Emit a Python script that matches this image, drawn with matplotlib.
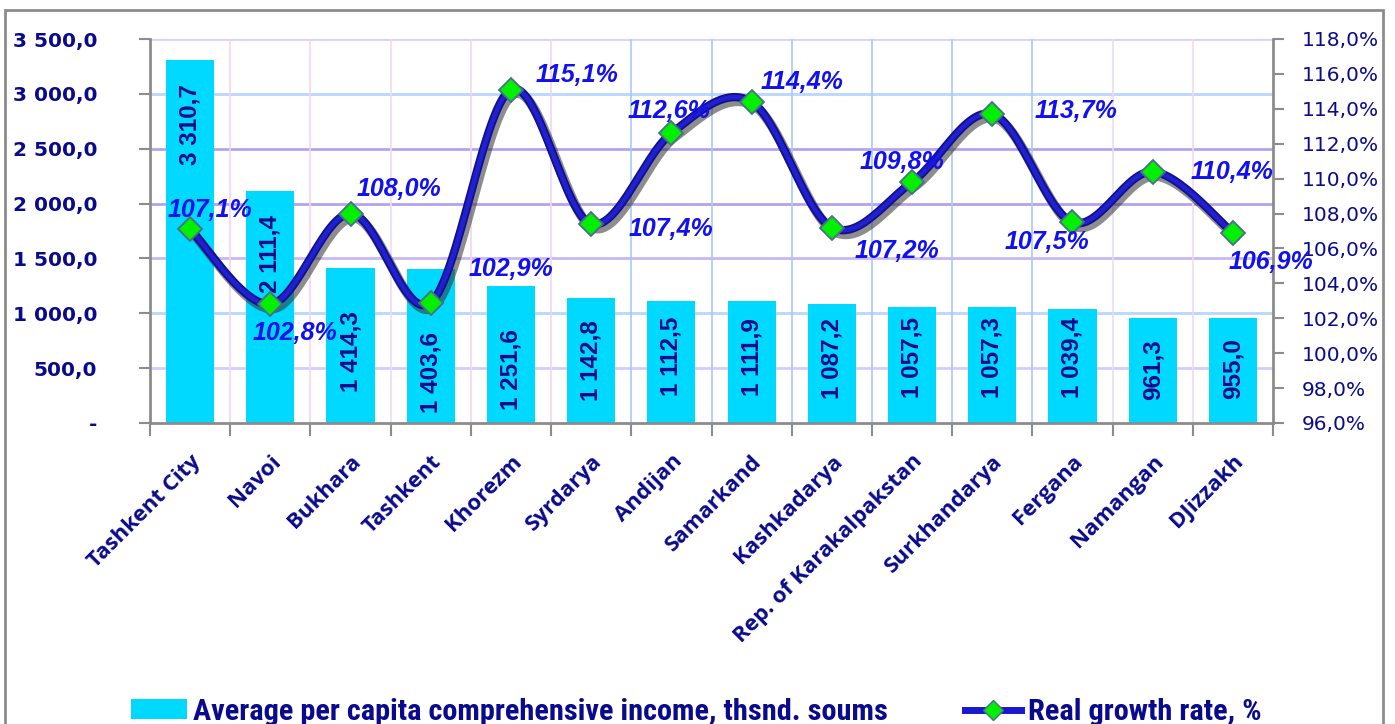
import numpy as np
import matplotlib
matplotlib.use("Agg")
import matplotlib.pyplot as plt
from matplotlib import font_manager
from matplotlib.patches import Rectangle
from matplotlib.lines import Line2D
import matplotlib.patheffects as pe

regions = ["Tashkent City", "Navoi", "Bukhara", "Tashkent", "Khorezm", "Syrdarya",
           "Andijan", "Samarkand", "Kashkadarya", "Rep. of Karakalpakstan",
           "Surkhandarya", "Fergana", "Namangan", "DJizzakh"]
income = [3310.7, 2111.4, 1414.3, 1403.6, 1251.6, 1142.8, 1112.5, 1111.9,
          1087.2, 1057.5, 1057.3, 1039.4, 961.3, 955.0]
growth = [107.1, 102.8, 108.0, 102.9, 115.1, 107.4, 112.6, 114.4,
          107.2, 109.8, 113.7, 107.5, 110.4, 106.9]

# where the value labels sit (left axis units / pixel offsets of the % labels)
bar_label_y = [2723, 1544, 651, 460, 483, 565, 606, 597, 587, 601, 601, 601, 483, 492]
pct_offsets_px = [(20, -19), (25, 29), (48, -25), (80, -34), (66, -15), (80, 5), (-2, -22),
                  (50, -20), (65, 23), (-10, -20), (84, -3), (-25, 20), (79, 0), (38, 29)]

navy = "#0A0A8C"
cyan = "#00D9FF"


def pick_font(names):
    have = {f.name for f in font_manager.fontManager.ttflist}
    for n in names:
        if n in have:
            return n
    return "DejaVu Sans"


narrow = pick_font(["Liberation Sans Narrow", "Roboto Condensed", "Liberation Sans"])
arial = pick_font(["Liberation Sans", "Arimo", "DejaVu Sans"])


def fmt_num(v):
    if v == 0:
        return "-"
    s = f"{v:,.1f}".replace(",", " ").replace(".", ",")
    return s


def smooth(xs, ys, n=30):
    # Catmull-Rom style bezier smoothing like the spreadsheet "smoothed line"
    xs = np.asarray(xs, float)
    ys = np.asarray(ys, float)
    px = np.concatenate([[xs[0]], xs, [xs[-1]]])
    py = np.concatenate([[ys[0]], ys, [ys[-1]]])
    outx, outy = [], []
    for i in range(1, len(px) - 2):
        p0 = np.array([px[i], py[i]])
        p3 = np.array([px[i + 1], py[i + 1]])
        c1 = p0 + (np.array([px[i + 1], py[i + 1]]) - np.array([px[i - 1], py[i - 1]])) / 6
        c2 = p3 - (np.array([px[i + 2], py[i + 2]]) - np.array([px[i], py[i]])) / 6
        t = np.linspace(0, 1, n)[:, None]
        b = (1 - t) ** 3 * p0 + 3 * (1 - t) ** 2 * t * c1 + 3 * (1 - t) * t ** 2 * c2 + t ** 3 * p3
        outx.extend(b[:, 0])
        outy.extend(b[:, 1])
    return np.array(outx), np.array(outy)


fig = plt.figure(figsize=(13.95, 7.24), dpi=100)
fig.patches.append(Rectangle((5 / 1395, -0.05), 1378 / 1395, 1 - 10 / 724 + 0.05,
                             transform=fig.transFigure, fill=False, edgecolor="#8C8C8C", lw=2))

ax = fig.add_axes([150 / 1395, 1 - 423 / 724, 1123 / 1395, 384 / 724])
x = np.arange(len(regions))

# grid
hcolors = ["#D8D0FF", "#B8D6FF", "#B4A2F0", "#B4A2F0", "#C8B8F4", "#B8D6FF", "#D4CCFF"]
for yv, c in zip(range(3500, 0, -500), hcolors):
    ax.axhline(yv, color=c, lw=2, zorder=0)
vcolors = ["#F4D6F0", "#F4D6F0", "#F0DAF4", "#F4D6F0", "#F4D6F0", "#A9C9F8", "#A9C9F8",
           "#A9C9F8", "#A9C9F8", "#A9C9F8", "#A9C9F8", "#E6DDF8", "#F2D8F2"]
for i, c in enumerate(vcolors):
    ax.axvline(i + 0.5, color=c, lw=1.2, zorder=0)

bars = ax.bar(x, income, width=0.6, color=cyan, zorder=2)
for xi, v, yl in zip(x, income, bar_label_y):
    ax.text(xi, yl, fmt_num(v), rotation=90, ha="center", va="center", family=arial,
            fontsize=17.5, fontweight="bold", color=navy, zorder=3)

ax.set_xlim(-0.5, len(regions) - 0.5)
ax.set_ylim(0, 3500)
ax.set_yticks(range(0, 3501, 500))
ax.set_yticklabels([fmt_num(v) for v in range(0, 3501, 500)])
for t in ax.get_yticklabels():
    t.set_fontweight("bold")
    t.set_fontsize(14.5)
    t.set_color(navy)
ax.tick_params(axis="y", length=8, width=1.5, color="#8C8C8C", pad=30)

ax.set_xticks(x)
ax.set_xticklabels(regions, rotation=45, ha="right", rotation_mode="anchor",
                   fontsize=16, fontweight="bold", color=navy, family="Open Sans")
ax.tick_params(axis="x", length=0, pad=20)
ax.set_xticks(np.arange(-0.5, len(regions)), minor=True)
ax.tick_params(axis="x", which="minor", length=9, width=1.5, color="#8C8C8C")

for s in ["top", "right"]:
    ax.spines[s].set_visible(False)
for s in ["left", "bottom"]:
    ax.spines[s].set_color("#8C8C8C")
    ax.spines[s].set_linewidth(2)

ax2 = ax.twinx()
ax2.set_ylim(96, 118)
ax2.set_yticks(np.arange(96, 118.1, 2))
ax2.set_yticklabels([f"{v:.1f}%".replace(".", ",") for v in np.arange(96, 118.1, 2)])
ax2.tick_params(axis="y", length=8, width=1.5, color="#8C8C8C", labelsize=14.5,
                labelcolor=navy, pad=13)
for s in ["top", "left", "bottom"]:
    ax2.spines[s].set_visible(False)
ax2.spines["right"].set_color("#8C8C8C")
ax2.spines["right"].set_linewidth(2)

sx, sy = smooth(x, growth)
ax2.plot(sx, sy, color="#2020D0", lw=3.4, solid_capstyle="round", zorder=3,
         path_effects=[pe.SimpleLineShadow(offset=(2, -3), shadow_color="#303030", alpha=0.55, linewidth=7),
                       pe.Stroke(linewidth=6, foreground="#10108C"), pe.Normal()])
ax2.plot(x, growth, ls="none", marker="D", ms=12, mfc="#00F000", mec="#4A6E8A", mew=1.3, zorder=4)

for xi, g, (dx, dy) in zip(x, growth, pct_offsets_px):
    ax2.annotate(f"{g:.1f}%".replace(".", ","), (xi, g), xytext=(dx * 0.72, -dy * 0.72),
                 textcoords="offset points", ha="center", va="center", fontsize=18,
                 family=arial, fontweight="bold", fontstyle="italic", color="#1010F0", zorder=5)

line_handle = Line2D([], [], color="#1818D0", lw=5, marker="D", ms=10,
                     mfc="#00F000", mec="#4A6E8A")
leg = fig.legend([bars, line_handle],
                 ["Average per capita comprehensive income, thsnd. soums", "Real growth rate, %"],
                 loc="center left", bbox_to_anchor=(131 / 1395, 1 - 712 / 724), ncol=2,
                 frameon=False, handlelength=1.84, handleheight=0.65, columnspacing=2.55,
                 handletextpad=0.2, borderaxespad=0, borderpad=0,
                 prop={"family": narrow, "weight": "bold", "size": 21.9})
for t in leg.get_texts():
    t.set_color(navy)

fig.savefig("out.png", dpi=100)
